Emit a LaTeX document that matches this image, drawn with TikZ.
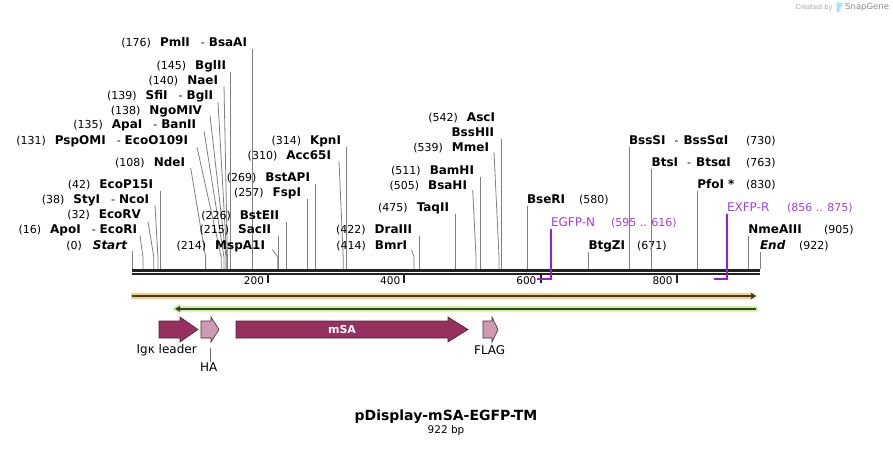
\documentclass[tikz,border=0pt]{standalone}
\usepackage{fontspec}
\setmainfont{DejaVu Sans}
\usetikzlibrary{calc,arrows.meta}
\definecolor{enzgray}{RGB}{128,128,128}
\definecolor{rulerc}{RGB}{34,34,34}
\definecolor{primerc}{RGB}{145,30,225}
\definecolor{primertext}{RGB}{165,60,235}
\definecolor{featdark}{RGB}{150,48,96}
\definecolor{featlight}{RGB}{205,153,180}
\definecolor{featedge}{RGB}{70,40,55}
\definecolor{orangeb}{RGB}{250,205,130}
\definecolor{greenb}{RGB}{195,245,145}
\definecolor{barline}{RGB}{60,60,60}
\newcommand\enz[1]{{\fontsize{12}{14}\selectfont\bfseries #1}}
\newcommand\Lstraight[5]{%
  \node[lbl] (#1) at (#2,#3+4.5) {#5};
  \coordinate (s-#1) at (#4,269);
  \draw[eline] ($(s-#1 |- #1.base)+(0,2)$) -- (s-#1);}
\newcommand\Lbent[7]{%
  \node[lbl] (#1) at (#2,#3+4.5) {#5};
  \coordinate (s-#1) at (#4,269);
  \coordinate (k-#1) at (#4,257);
  \draw[eline] ($(#1.base east)+(#6,#7)$) -- (k-#1) -- (s-#1);}
\newcommand\Rsite[6]{%
  \node[rlbl] (#1) at (#2,#3+4.5) {#4};
  \node[rlbl] (#1-n) at (#5,#3+4.5) {#6};
  \coordinate (s-#1) at (#2,269);
  \draw[eline] ($(#1.base west)+(0,2)$) -- (s-#1);}
\begin{document}
\begin{tikzpicture}[x=1pt,y=-1pt,
  eline/.style={draw=enzgray,line width=0.8pt},
  lbl/.style={inner sep=0pt,outer sep=0pt,anchor=base east,font=\fontsize{11}{13}\selectfont},
  rlbl/.style={inner sep=0pt,outer sep=0pt,anchor=base west,font=\fontsize{11}{13}\selectfont},
  primer/.style={draw=primerc,line width=1.4pt},
  feat/.style={draw=featedge,line width=0.6pt},
  flbl/.style={inner sep=0pt,font=\fontsize{12}{14}\selectfont},
  rnum/.style={inner sep=0pt,anchor=east,font=\fontsize{10.5}{12}\selectfont},
  tick/.style={draw=rulerc,line width=2pt}]
\fill[white] (0,0) rectangle (893,448);
\useasboundingbox (0,0) rectangle (893,448);

% ruler
\coordinate (r0) at (132,270);
\coordinate (r1) at (760,270);
\draw[rulerc,line width=3pt] (r0) -- (r1);
\draw[rulerc,line width=2.7pt] ($(r0)+(0,4)$) -- ($(r1)+(0,4)$);
\foreach \x/\t in {268.2/200,404.4/400,540.6/600,676.8/800}{
  \draw[tick] (\x,275) -- (\x,283);
  \node[rnum] (t\t) at (\x-4,281) {\t};
}

% left-side enzyme labels
\Lstraight{startl}{127}{244.5}{132.5}{(0)\hspace{11pt}\enz{\itshape Start}}
\Lbent{apoi}{137}{229}{143}{(16)\hspace{9pt}\enz{ApoI}\hspace{11pt}-\hspace{4pt}\enz{EcoRI}}{3}{2}
\Lbent{ecorv}{141}{214}{153.8}{(32)\hspace{9pt}\enz{EcoRV}}{7}{3}
\Lbent{styi}{149}{199}{157.9}{(38)\hspace{9pt}\enz{StyI}\hspace{11pt}-\hspace{4pt}\enz{NcoI}}{6}{1.5}
\Lstraight{ecop}{153}{184}{160.6}{(42)\hspace{9pt}\enz{EcoP15I}}
\Lbent{ndei}{185}{162}{205.6}{(108)\hspace{9pt}\enz{NdeI}}{5.7}{1.5}
\Lbent{pspomi}{188}{140}{221.2}{(131)\hspace{9pt}\enz{PspOMI}\hspace{11pt}-\hspace{4pt}\enz{EcoO109I}}{9}{2.5}
\Lbent{apai}{196}{124}{224}{(135)\hspace{9pt}\enz{ApaI}\hspace{11pt}-\hspace{4pt}\enz{BanII}}{8}{2.5}
\Lbent{ngomiv}{202}{110}{226}{(138)\hspace{9pt}\enz{NgoMIV}}{8}{1}
\Lbent{sfii}{213}{95}{226.7}{(139)\hspace{9pt}\enz{SfiI}\hspace{11pt}-\hspace{4pt}\enz{BglI}}{5}{2.5}
\Lbent{naei}{218}{80}{227.4}{(140)\hspace{9pt}\enz{NaeI}}{6}{1.5}
\Lstraight{bglii}{226}{65}{230.8}{(145)\hspace{9pt}\enz{BglII}}
\Lstraight{pmli}{247}{42}{251.9}{(176)\hspace{9pt}\enz{PmlI}\hspace{11pt}-\hspace{4pt}\enz{BsaAI}}
\Lbent{mspa}{265}{245}{277.8}{(214)\hspace{9pt}\enz{MspA1I}}{7}{0}
\Lstraight{sacii}{271}{229}{278.4}{(215)\hspace{9pt}\enz{SacII}}
\Lstraight{bsteii}{279}{215}{285.9}{(226)\hspace{9pt}\enz{BstEII}}
\Lstraight{fspi}{301}{192}{307}{(257)\hspace{9pt}\enz{FspI}}
\Lstraight{bstapi}{310}{177}{315.2}{(269)\hspace{9pt}\enz{BstAPI}}
\Lbent{acc}{331}{155}{343.2}{(310)\hspace{9pt}\enz{Acc65I}}{8}{1.5}
\Lstraight{kpni}{341}{140}{345.9}{(314)\hspace{9pt}\enz{KpnI}}
\Lbent{bmri}{407}{245}{414}{(414)\hspace{9pt}\enz{BmrI}}{4.7}{0.5}
\Lstraight{draiii}{412}{229}{419.4}{(422)\hspace{9pt}\enz{DraIII}}
\Lstraight{taqii}{449}{207}{455.5}{(475)\hspace{9pt}\enz{TaqII}}
\Lbent{bsahi}{467}{185}{476}{(505)\hspace{9pt}\enz{BsaHI}}{5.7}{0.5}
\Lstraight{bamhi}{474}{170}{480.3}{(511)\hspace{9pt}\enz{BamHI}}
\Lbent{mmei}{489}{147}{499}{(539)\hspace{9pt}\enz{MmeI}}{5}{0.5}
\Lstraight{bsshii}{494}{132}{501.2}{\enz{BssHII}}
\node[lbl] (asci) at (495,117+4.5) {(542)\hspace{9pt}\enz{AscI}};

% right-side enzyme labels
\Rsite{bseri}{527}{199}{\enz{BseRI}}{579}{(580)}
\Rsite{btgzi}{588.5}{245}{\enz{BtgZI}}{637}{(671)}
\Rsite{bsssi}{629}{140}{\enz{BssSI}\hspace{9pt}-\hspace{5pt}\enz{BssSαI}}{746}{(730)}
\Rsite{btsi}{651.7}{162}{\enz{BtsI}\hspace{9pt}-\hspace{5pt}\enz{BtsαI}}{746}{(763)}
\Rsite{pfoi}{697.3}{184}{\enz{PfoI *}}{746}{(830)}
\Rsite{nmea}{748.4}{229}{\enz{NmeAIII}}{824}{(905)}
\Rsite{endl}{760}{245}{\enz{\itshape End}}{799}{(922)}

% primers
\node[rlbl,text=primertext,font=\fontsize{12}{14}\selectfont] (egfpn) at (551,226.5) {EGFP-N};
\node[rlbl,text=primertext] (egfpn-n) at (611,226.5) {(595 .. 616)};
\coordinate (p-egfpn) at (551,279);
\coordinate (p-egfpn-e) at (536.5,279);
\draw[primer] ($(egfpn.base west)+(0,2)$) -- (p-egfpn) -- (p-egfpn-e);
\node[rlbl,text=primertext,font=\fontsize{12}{14}\selectfont] (exfpr) at (727,211.5) {EXFP-R};
\node[rlbl,text=primertext] (exfpr-n) at (787,211.5) {(856 .. 875)};
\coordinate (p-exfpr) at (727,279);
\coordinate (p-exfpr-e) at (714,279);
\draw[primer] ($(exfpr.base west)+(0,2)$) -- (p-exfpr) -- (p-exfpr-e);

% orange and green bars
\fill[orangeb] (131,293) -- (750,293) -- (750,291.5) -- (757.5,296) -- (750,300.5) -- (750,299) -- (131,299) -- cycle;
\draw[barline,line width=2.5pt,-{Triangle[length=5pt,width=6pt]}] (132,296) -- (756,296);
\fill[greenb] (757.5,306) -- (180,306) -- (180,304) -- (172,308.8) -- (180,313.5) -- (180,311.7) -- (757.5,311.7) -- cycle;
\draw[barline,line width=2.2pt,-{Triangle[length=5pt,width=5.5pt]}] (755.7,308.8) -- (175,308.8);

% features
\fill[featdark,feat] (159,321) -- (180,321) -- (180,317) -- (198,329.5) -- (180,342) -- (180,338) -- (159,338) -- cycle;
\fill[featlight,feat] (201,321) -- (211,321) -- (211,317) -- (219,329.5) -- (211,342) -- (211,338) -- (201,338) -- cycle;
\fill[featdark,feat] (236,321) -- (448,321) -- (448,317) -- (468,329.5) -- (448,342) -- (448,338) -- (236,338) -- cycle;
\fill[featlight,feat] (483,321) -- (492,321) -- (492,317) -- (498,329.5) -- (492,342) -- (492,338) -- (483,338) -- cycle;
\node[inner sep=0pt,text=white,font=\fontsize{11}{13}\selectfont\bfseries] (msa) at (342,329.5) {mSA};
\node[flbl] (igk) at (166.7,350) {Igκ leader};
\node[flbl] (ha) at (208.7,366.7) {HA};
\coordinate (ha-c) at (210.7,347.5);
\draw[black!60,line width=0.7pt] (ha-c) -- (ha-c |- ha.north);
\node[flbl] (flag) at (489.7,350) {FLAG};

% title
\node[inner sep=0pt,font=\fontsize{14}{16}\selectfont\bfseries] (title) at (446,417) {pDisplay-mSA-EGFP-TM};
\node[inner sep=0pt,font=\fontsize{10.5}{12}\selectfont] (bp) at (446,431) {922 bp};

% logo
\node[inner sep=0pt,anchor=west,text=black!35,font=\fontsize{6.7}{8}\selectfont] (cb) at (795.5,7.3) {Created by};
\fill[cyan!35] (836.5,2.5) rectangle (839.5,12) (839.5,2.5) -- (842,2.5) -- (842,6) -- (839.5,8) -- cycle;
\node[inner sep=0pt,anchor=west,text=black!45,font=\fontsize{8.5}{10}\selectfont] (sg) at (845,7.3) {SnapGene};
\end{tikzpicture}
\end{document}
